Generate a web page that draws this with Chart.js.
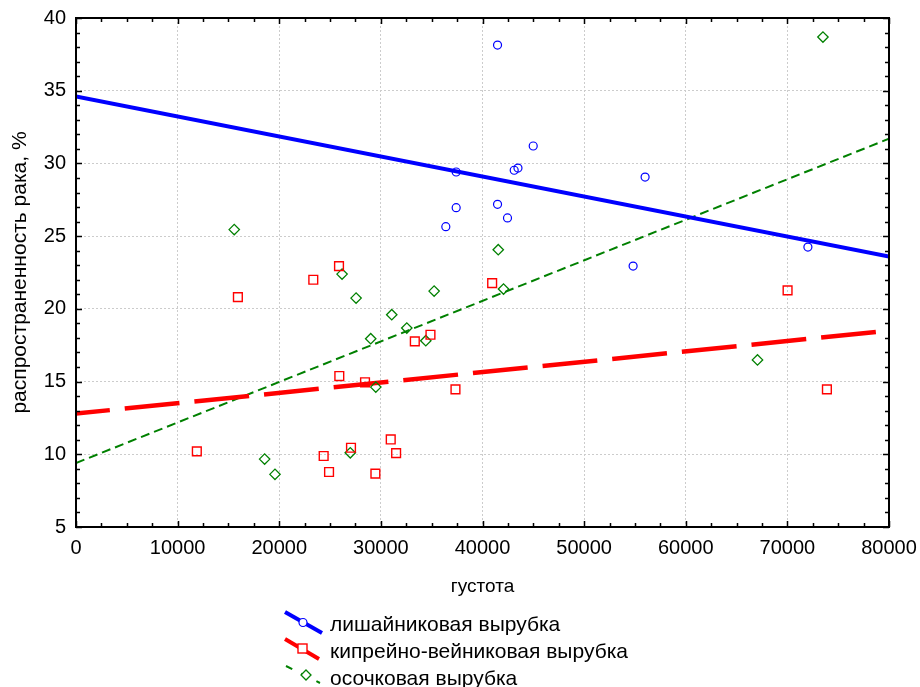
<!DOCTYPE html>
<html lang="ru">
<head>
<meta charset="utf-8">
<title>густота и распространенность рака</title>
<script src="https://cdn.jsdelivr.net/npm/chart.js@4.4.1/dist/chart.umd.min.js"></script>
<style>
  html, body { margin: 0; padding: 0; background: #fff; }
  #wrap { position: relative; width: 920px; height: 687px; overflow: hidden; }
  #plot { position: absolute; left: 0; top: 0; }
  #legend {
    position: absolute; left: 283px; top: 610px;
    font-family: "Liberation Sans", Arial, sans-serif; font-size: 21px; color: #000;
  }
  #legend .row { position: relative; height: 27px; line-height: 27px; white-space: nowrap; }
  #legend svg { position: absolute; left: 0; top: 0; }
  #legend span { position: absolute; left: 47px; top: 0; }
</style>
</head>
<body>
<div id="wrap">
  <canvas id="plot" width="920" height="687"></canvas>
  <div id="legend"></div>
</div>
<script>
// Series: stand density (x) vs. cancer prevalence, % (y)
const seriesNames = ['лишайниковая вырубка', 'кипрейно-вейниковая вырубка', 'осочковая вырубка'];

const lichenX = [41480, 44990, 37410, 43120, 43490, 56000, 37410, 41480, 42460, 36390, 54820, 72020];
const lichenY = [38.14, 31.2, 29.41, 29.53, 29.68, 29.06, 26.96, 27.19, 26.25, 25.65, 22.94, 24.25];

const fireweedX = [25880, 23350, 15930, 33340, 34880, 25910, 28440, 37340, 11890, 27060, 30970, 31500, 24370, 24900, 29460, 40950, 70020, 73890];
const fireweedY = [22.94, 22.0, 20.81, 17.76, 18.22, 15.38, 14.95, 14.46, 10.2, 10.45, 11.02, 10.08, 9.88, 8.78, 8.67, 21.77, 21.27, 14.46];

const sedgeX = [15570, 26180, 41550, 73500, 27560, 35240, 31070, 32550, 29000, 34420, 29500, 18560, 19580, 26990, 42070, 67060];
const sedgeY = [25.45, 22.39, 24.07, 38.69, 20.74, 21.22, 19.6, 18.68, 17.95, 17.81, 14.62, 9.67, 8.62, 10.1, 21.36, 16.49];

// Linear fits, evaluated at the ends of the density range
const fitX = [0, 80000];
const lichenFit = [34.6, 23.6];
const fireweedFit = [12.8, 18.5];
const sedgeFit = [9.4, 31.7];

// Axis tick values
const xTicks = [0, 10000, 20000, 30000, 40000, 50000, 60000, 70000, 80000];
const yTicks = [5, 10, 15, 20, 25, 30, 35, 40];

const BLUE = '#0000ff';
const RED = '#ff0000';
const GREEN = '#008000';
const FONT = '"Liberation Sans", Arial, sans-serif';

const pts = (xs, ys) => xs.map((x, i) => ({ x: x, y: ys[i] }));

// Inward tick marks and the frame around the plot area
const framePlugin = {
  id: 'frame',
  afterDraw(chart) {
    const { ctx, chartArea: a, scales: { x, y } } = chart;
    ctx.save();
    ctx.strokeStyle = '#000';
    ctx.lineWidth = 1.5;
    ctx.beginPath();
    for (let v = xTicks[0]; v <= xTicks[xTicks.length - 1]; v += 2500) {
      const px = Math.round(x.getPixelForValue(v)) + 0.5;
      const len = v % 10000 === 0 ? 6 : 4;
      ctx.moveTo(px, a.bottom); ctx.lineTo(px, a.bottom - len);
      ctx.moveTo(px, a.top); ctx.lineTo(px, a.top + len);
    }
    for (let v = yTicks[0]; v <= yTicks[yTicks.length - 1]; v += 1) {
      const py = Math.round(y.getPixelForValue(v)) + 0.5;
      const len = v % 5 === 0 ? 6 : 4;
      ctx.moveTo(a.left, py); ctx.lineTo(a.left + len, py);
      ctx.moveTo(a.right, py); ctx.lineTo(a.right - len, py);
    }
    ctx.stroke();
    ctx.lineWidth = 2;
    ctx.strokeRect(a.left, a.top, a.right - a.left, a.bottom - a.top);
    ctx.restore();
  }
};

new Chart(document.getElementById('plot'), {
  type: 'scatter',
  data: {
    datasets: [
      { label: seriesNames[0], data: pts(lichenX, lichenY), pointStyle: 'circle', pointRadius: 4,
        borderColor: BLUE, backgroundColor: 'rgba(0,0,0,0)', pointBorderWidth: 1.2, showLine: false },
      { label: seriesNames[1], data: pts(fireweedX, fireweedY), pointStyle: 'rect', pointRadius: 6.2,
        borderColor: RED, backgroundColor: 'rgba(0,0,0,0)', pointBorderWidth: 1.4, showLine: false },
      { label: seriesNames[2], data: pts(sedgeX, sedgeY), pointStyle: 'rectRot', pointRadius: 5.2,
        borderColor: GREEN, backgroundColor: 'rgba(0,0,0,0)', pointBorderWidth: 1.3, showLine: false },
      { label: seriesNames[0], data: pts(fitX, lichenFit), showLine: true, pointRadius: 0,
        borderColor: BLUE, borderWidth: 4, fill: false },
      { label: seriesNames[1], data: pts(fitX, fireweedFit), showLine: true, pointRadius: 0,
        borderColor: RED, borderWidth: 4.5, borderDash: [55, 15], borderDashOffset: 21, fill: false },
      { label: seriesNames[2], data: pts(fitX, sedgeFit), showLine: true, pointRadius: 0,
        borderColor: GREEN, borderWidth: 2, borderDash: [9, 5], fill: false }
    ]
  },
  options: {
    responsive: false,
    animation: false,
    devicePixelRatio: 1,
    layout: { padding: { top: 18, left: 0, right: 31, bottom: 87 } },
    plugins: { legend: { display: false }, tooltip: { enabled: false } },
    scales: {
      x: {
        type: 'linear', min: 0, max: 80000,
        afterFit(s) { s.height = 73; s.paddingLeft = 0; s.paddingRight = 0; },
        afterBuildTicks(s) { s.ticks = xTicks.map(v => ({ value: v })); },
        ticks: { color: '#000', font: { family: FONT, size: 20 }, padding: 9, maxRotation: 0,
                 callback: v => String(v) },
        grid: { color: '#cccccc', lineWidth: 1, drawTicks: false },
        border: { display: false, dash: [2, 2] },
        title: { display: true, text: 'густота', color: '#000', font: { family: FONT, size: 19 },
                 padding: { top: 0, bottom: 2 } }
      },
      y: {
        type: 'linear', min: 5, max: 40,
        afterFit(s) { s.width = 76; s.paddingTop = 0; s.paddingBottom = 0; },
        afterBuildTicks(s) { s.ticks = yTicks.map(v => ({ value: v })); },
        ticks: { color: '#000', font: { family: FONT, size: 20 }, padding: 10,
                 callback: v => String(v) },
        grid: { color: '#cccccc', lineWidth: 1, drawTicks: false },
        border: { display: false, dash: [2, 2] },
        title: { display: true, text: 'распространенность рака, %', color: '#000',
                 font: { family: FONT, size: 21 }, padding: { top: 8, bottom: 0 } }
      }
    }
  },
  plugins: [framePlugin]
});

// Legend rows: slanted line sample with its marker, then the series name
const legendSamples = [
  '<line x1="2" y1="2" x2="39" y2="23" stroke="' + BLUE + '" stroke-width="4"/>' +
  '<circle cx="20" cy="12.5" r="4" fill="#fff" stroke="' + BLUE + '" stroke-width="1.2"/>',
  '<line x1="2" y1="2" x2="36" y2="22" stroke="' + RED + '" stroke-width="4"/>' +
  '<rect x="15" y="7" width="9" height="9" fill="#fff" stroke="' + RED + '" stroke-width="1.4"/>',
  '<line x1="3" y1="2" x2="37" y2="19" stroke="' + GREEN + '" stroke-width="2" stroke-dasharray="7 10"/>' +
  '<path d="M23 6 L28 11 L23 16 L18 11 Z" fill="#fff" stroke="' + GREEN + '" stroke-width="1.3"/>'
];
const legend = document.getElementById('legend');
seriesNames.forEach((name, i) => {
  const row = document.createElement('div');
  row.className = 'row';
  row.innerHTML = '<svg width="42" height="26" viewBox="0 0 42 26">' + legendSamples[i] + '</svg>' +
                  '<span>' + name + '</span>';
  legend.appendChild(row);
});
</script>
</body>
</html>
